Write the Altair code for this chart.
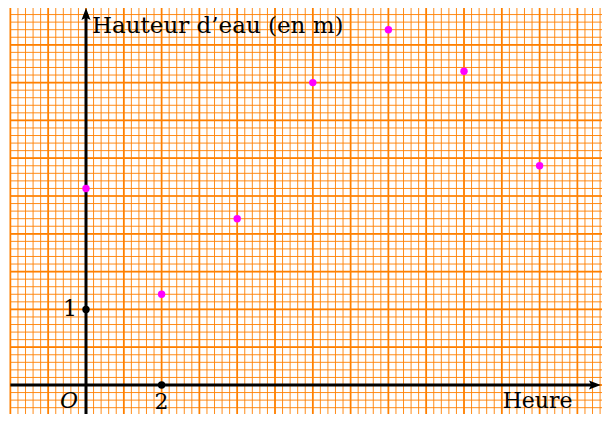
import altair as alt
import numpy as np
import pandas as pd

# ---- data ----
hours = [0, 2, 4, 6, 8, 10, 12]
heights = [2.6, 1.2, 2.2, 4.0, 4.7, 4.15, 2.9]

title_y = "Hauteur d’eau (en m)"
title_x = "Heure"
origin_label = "O"
tick_x_label = "2"
tick_y_label = "1"

# ---- geometry (1 unit x = 1 cm, 1 unit y = 2 cm at 96 dpi) ----
W, H = 594, 406
PX_X, PX_Y = 37.8, 75.6
XMIN = -(86 - 8) / PX_X
XMAX = XMIN + W / PX_X
YMAX = (385 - 8) / PX_Y
YMIN = YMAX - H / PX_Y
GX0, GX1 = -2.0, 14.0
GY0, GY1 = -0.5, 5.0

ORANGE = "#ff8000"
MAGENTA = "#ff00ff"
FONT = "DejaVu Serif"

xs = alt.Scale(domain=[XMIN, XMAX], nice=False, zero=False)
ys = alt.Scale(domain=[YMIN, YMAX], nice=False, zero=False)


def X(f="x"):
    return alt.X(f"{f}:Q", scale=xs, axis=None)


def Y(f="y"):
    return alt.Y(f"{f}:Q", scale=ys, axis=None)


minor_v = pd.DataFrame({"x": np.round(np.arange(GX0, GX1 + 1e-9, 0.2), 3)})
minor_v["y"], minor_v["y2"] = GY0, GY1
minor_h = pd.DataFrame({"y": np.round(np.arange(GY0, GY1 + 1e-9, 0.1), 3)})
minor_h["x"], minor_h["x2"] = GX0, GX1
major_v = pd.DataFrame({"x": np.arange(GX0, GX1 + 1e-9, 1.0)})
major_v["y"], major_v["y2"] = GY0, GY1
major_h = pd.DataFrame({"y": np.round(np.arange(GY0, GY1 + 1e-9, 0.5), 3)})
major_h["x"], major_h["x2"] = GX0, GX1

layers = []
layers.append(alt.Chart(minor_v).mark_rule(color=ORANGE, strokeWidth=0.9).encode(
    x=X(), y=Y(), y2="y2"))
layers.append(alt.Chart(minor_h).mark_rule(color=ORANGE, strokeWidth=0.9).encode(
    y=Y(), x=X(), x2="x2"))
layers.append(alt.Chart(major_v).mark_rule(color=ORANGE, strokeWidth=1.7).encode(
    x=X(), y=Y(), y2="y2"))
layers.append(alt.Chart(major_h).mark_rule(color=ORANGE, strokeWidth=1.7).encode(
    y=Y(), x=X(), x2="x2"))

# axes
X_TIP = XMAX - 0.03
xaxis = pd.DataFrame({"x": [GX0], "x2": [X_TIP - 0.2], "y": [0.0]})
yaxis = pd.DataFrame({"x": [0.0], "y": [GY0], "y2": [4.9]})
layers.append(alt.Chart(xaxis).mark_rule(color="black", strokeWidth=3).encode(
    x=X(), x2="x2", y=Y()))
layers.append(alt.Chart(yaxis).mark_rule(color="black", strokeWidth=3).encode(
    x=X(), y=Y(), y2="y2"))

up_arrow = pd.DataFrame({"x": [0.0], "y": [YMAX - 7 / PX_Y]})
right_arrow = pd.DataFrame({"x": [X_TIP - 7 / PX_X], "y": [0.0]})
layers.append(alt.Chart(up_arrow).mark_point(
    shape="M0,-1L0.65,0.7L0,0.4L-0.65,0.7Z", size=196, filled=True,
    color="black", opacity=1).encode(x=X(), y=Y()))
layers.append(alt.Chart(right_arrow).mark_point(
    shape="M1,0L-0.7,0.65L-0.4,0L-0.7,-0.65Z", size=196, filled=True,
    color="black", opacity=1).encode(x=X(), y=Y()))

# tick dots
ticks = pd.DataFrame({"x": [0.0, 2.0], "y": [1.0, 0.0]})
layers.append(alt.Chart(ticks).mark_circle(color="black", size=55, opacity=1).encode(
    x=X(), y=Y()))

# data points
pts = pd.DataFrame({"x": hours, "y": heights})
layers.append(alt.Chart(pts).mark_circle(color=MAGENTA, size=55, opacity=1).encode(
    x=X(), y=Y()))


# labels
def label(txt, x, y, dx, dy, align="center", baseline="middle", style="normal", size=22):
    df = pd.DataFrame({"x": [x], "y": [y], "t": [txt]})
    return alt.Chart(df).mark_text(
        font=FONT, fontSize=size, color="black", align=align, baseline=baseline,
        dx=dx, dy=dy, fontStyle=style).encode(x=X(), y=Y(), text="t:N")


layers.append(label(tick_y_label, 0.0, 1.0, -16, 0))
layers.append(label(tick_x_label, 2.0, 0.0, 0, 17))
layers.append(label(origin_label, 0.0, 0.0, -17, 16, style="italic"))
layers.append(label(title_x, 12.0, 0.0, -2, 16))
layers.append(label(title_y, 0.0, YMAX, 6, 18, align="left", size=23))

chart = alt.layer(*layers).properties(
    width=W, height=H, padding=0,
    autosize=alt.AutoSizeParams(type="none"),
).configure_view(stroke=None)

chart.save("out.html", embed_options={"renderer": "svg", "actions": False})
